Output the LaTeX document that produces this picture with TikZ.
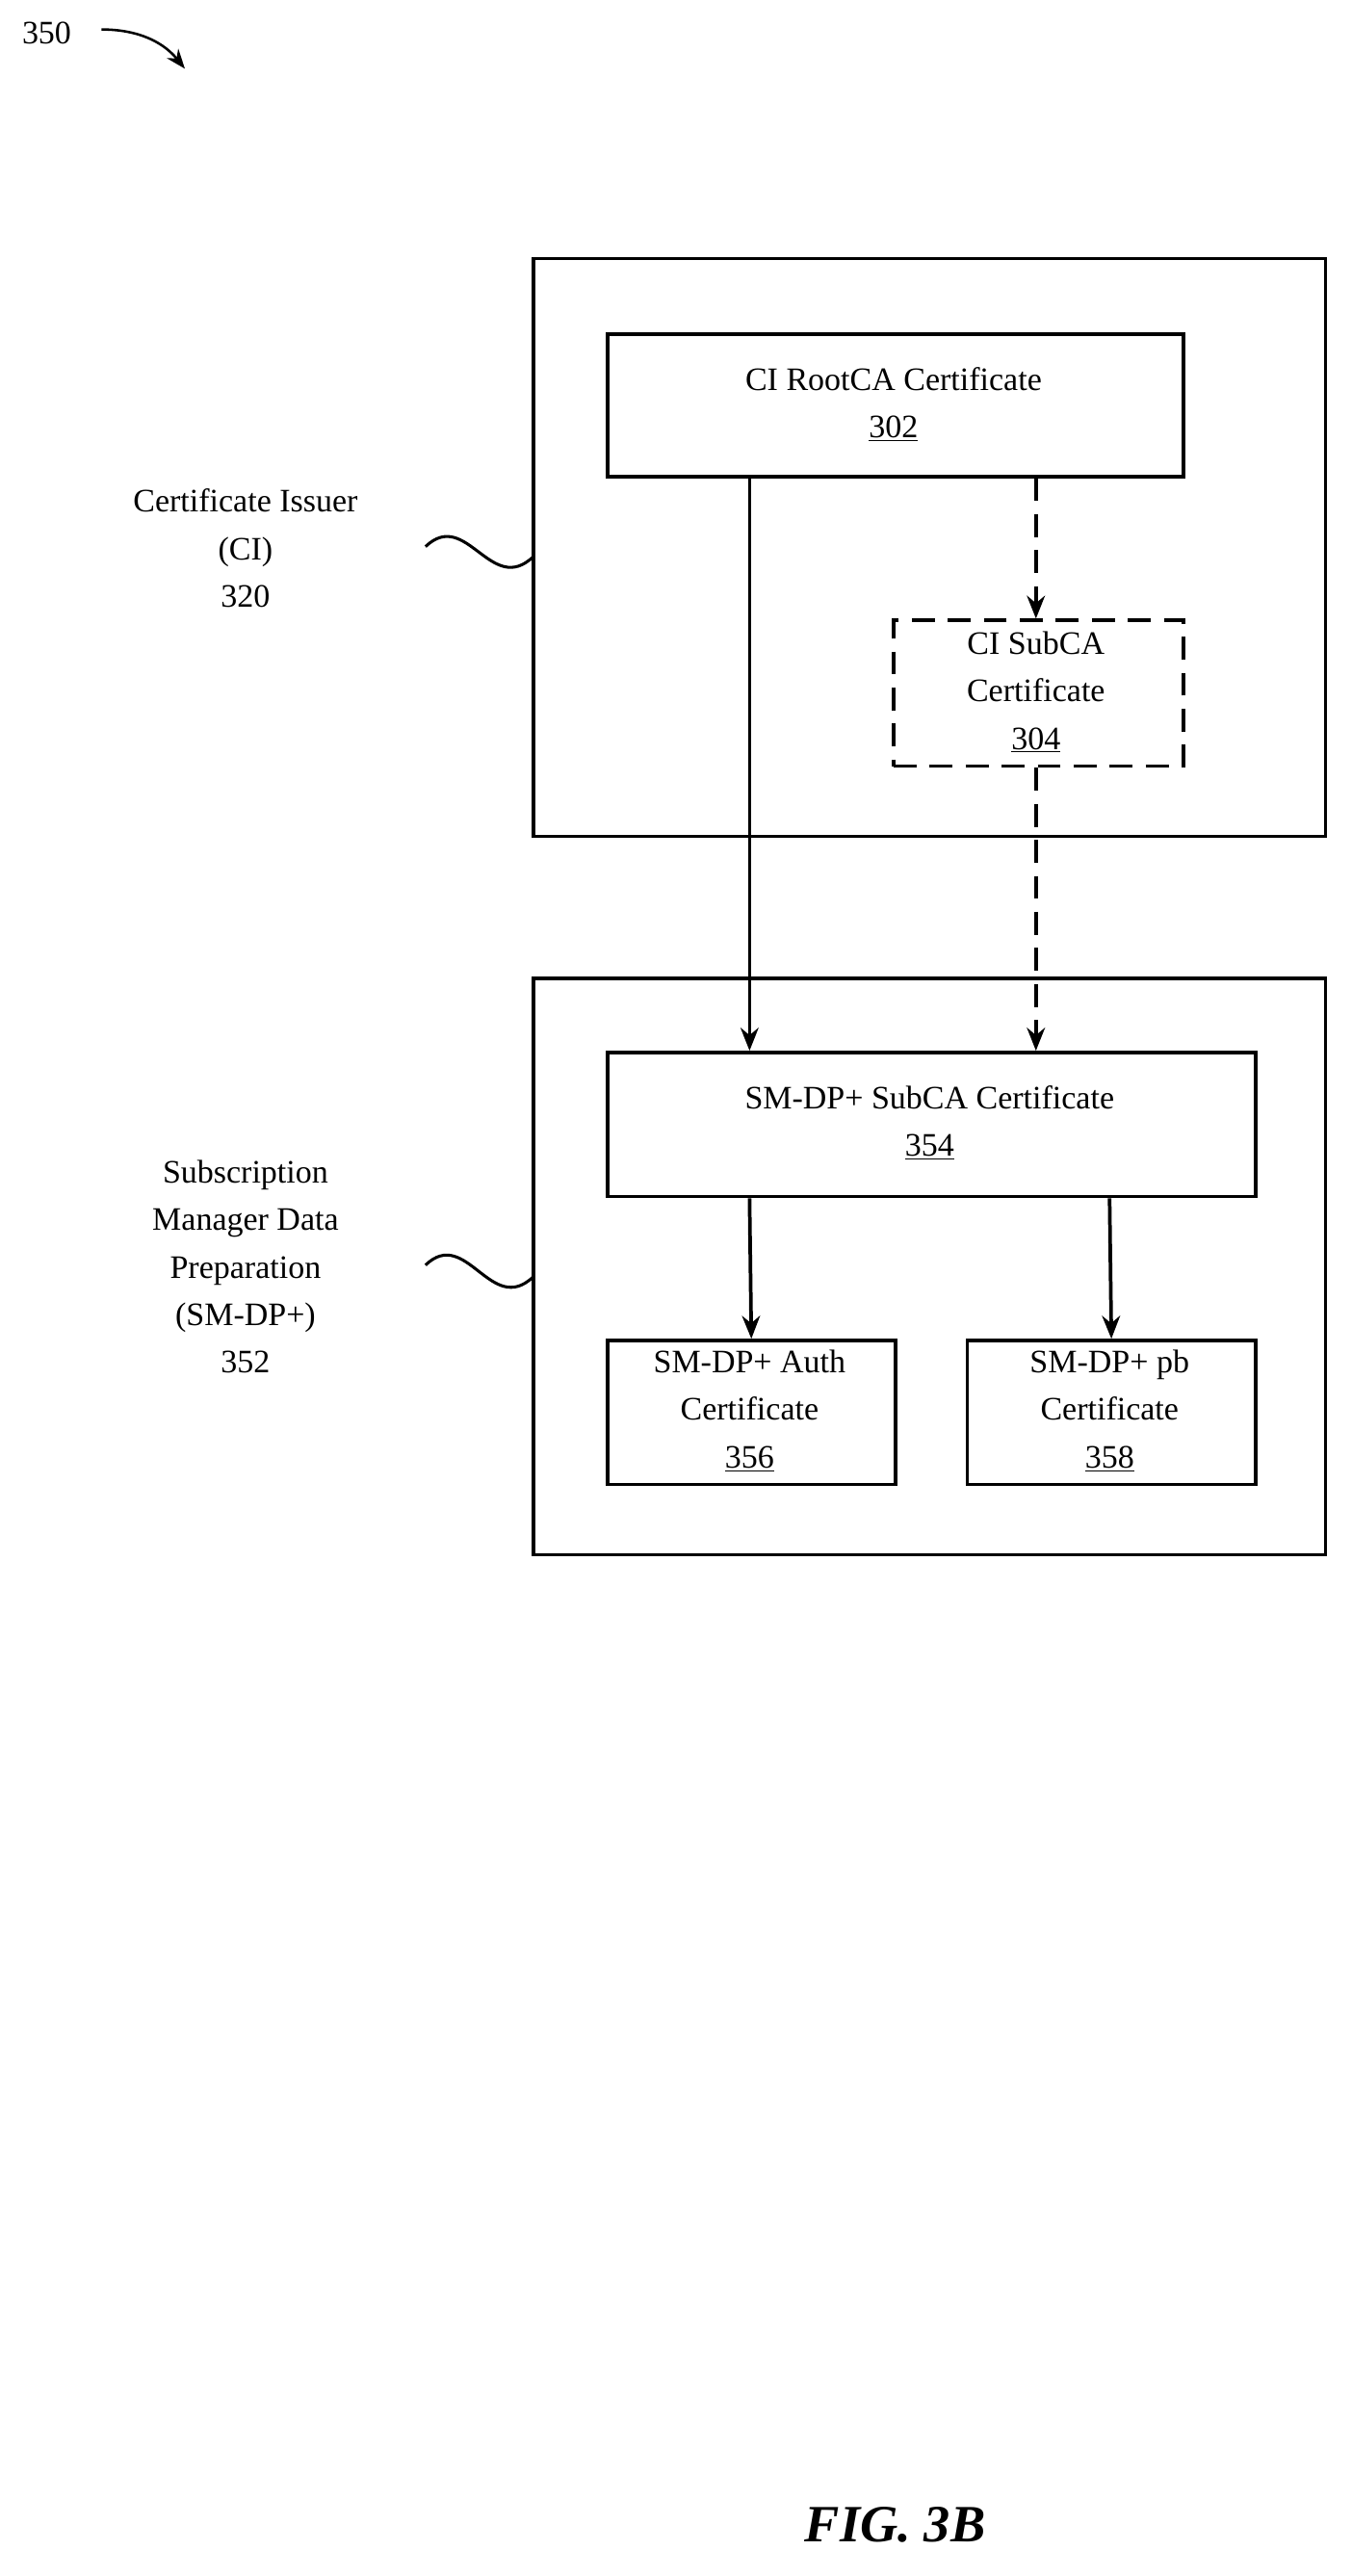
\documentclass[tikz,border=0pt]{standalone}
\usepackage{fontspec}
\setmainfont{Liberation Serif}
\usetikzlibrary{arrows.meta}
\begin{document}
\begin{tikzpicture}[x=1pt,y=-1pt,
  box/.style={draw,line width=2.2pt,inner sep=0pt},
  lbl/.style={font=\fontsize{20}{29}\selectfont,align=center},
  arr/.style={line width=2.2pt,-{Stealth[length=14pt,width=11pt]}},
  mydash/.style={dash pattern=on 14pt off 8pt}]
\useasboundingbox (0,0) rectangle (826,1574);
\node[lbl,anchor=west] (n350) at (10,20) {350};
\coordinate (a350) at (113,42);
\draw[line width=1.5pt,-{Stealth[length=12pt,width=9pt]}] (62,18) .. controls (85,18) and (100,26) .. (a350);
% CI
\draw[box] (326,158) rectangle (810,511);
\node[box,minimum width=352pt,minimum height=87pt,anchor=north west] (root) at (370,203) {};
\node[lbl] (roott) at (546,247) {CI RootCA Certificate\\\underline{302}};
\node[box,mydash,minimum width=177pt,minimum height=89pt,anchor=north west] (sub) at (545,378) {};
\node[lbl] (subt) at (633,423) {CI SubCA\\Certificate\\\underline{304}};
\node[lbl] (ci) at (150,335) {Certificate Issuer\\(CI)\\320};
\coordinate (s1a) at (260,334); \coordinate (s1b) at (326,340);
\draw[line width=1.8pt] (s1a) .. controls (285,310) and (300,365) .. (s1b);
% SM
\draw[box] (326,598) rectangle (810,950);
\node[box,minimum width=396pt,minimum height=88pt,anchor=north west] (smsub) at (370,642) {};
\node[lbl] (smsubt) at (568,686) {SM-DP+ SubCA Certificate\\\underline{354}};
\node[box,minimum width=176pt,minimum height=88pt,anchor=north west] (auth) at (370,818) {};
\node[lbl] (autht) at (458,862) {SM-DP+ Auth\\Certificate\\\underline{356}};
\node[box,minimum width=176pt,minimum height=88pt,anchor=north west] (pb) at (590,818) {};
\node[lbl] (pbt) at (678,862) {SM-DP+ pb\\Certificate\\\underline{358}};
\node[lbl] (sm) at (150,774) {Subscription\\Manager Data\\Preparation\\(SM-DP+)\\352};
\coordinate (s2a) at (260,773); \coordinate (s2b) at (326,780);
\draw[line width=1.8pt] (s2a) .. controls (285,749) and (300,805) .. (s2b);
% arrows
\draw[arr] (root.south west -| 458,0) -- (smsub.north west -| 458,0);
\draw[arr,mydash] (root.south west -| 633,0) -- (sub.north west -| 633,0);
\draw[arr,mydash] (sub.south west -| 633,0) -- (smsub.north west -| 633,0);
\draw[arr] (smsub.south west -| 458,0) -- (auth.north);
\draw[arr] (smsub.south west -| 678,0) -- (pb.north);
\node[font=\fontsize{32}{38}\selectfont\bfseries\itshape] (fig) at (547,1543) {FIG. 3B};
\end{tikzpicture}
\end{document}
